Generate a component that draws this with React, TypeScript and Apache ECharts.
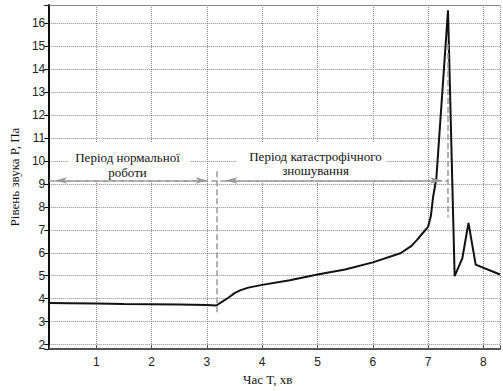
import React, { useEffect, useRef } from "react";
import * as echarts from "echarts";

// Time, min
const timeValues = [
  0.15, 0.5, 1.0, 1.5, 2.0, 2.5, 3.0, 3.17,
  3.3, 3.4, 3.5, 3.6, 3.75, 4.0, 4.5, 5.0, 5.5, 6.0, 6.5, 6.7, 6.8, 6.9, 7.0,
  7.05, 7.09, 7.15, 7.36, 7.48, 7.62, 7.73, 7.86, 8.3,
];
// Sound level, Pa
const soundValues = [
  3.81, 3.8, 3.79, 3.77, 3.76, 3.74, 3.72, 3.7,
  3.9, 4.06, 4.24, 4.36, 4.48, 4.6, 4.8, 5.05, 5.27, 5.58, 5.98, 6.3, 6.56, 6.85, 7.13,
  7.6, 8.42, 9.27, 16.57, 4.98, 5.77, 7.3, 5.48, 5.05,
];

const xMin = 0.15;
const xMax = 8.3;
const yMin = 1.8;
const yMax = 16.8;

// Annotation geometry (data coordinates)
const boundaryNormal = 3.175;
const boundaryEnd = 7.36;
const arrowLevel = 9.15;
const arrowHalf = 0.11;

const periodLines = ["Період нормальної", "роботи", "Період катастрофічного", "зношування"];
const xName = "Час T, хв";
const yName = "Рівень звука P, Па";

const intLabel = (v: number) => (Math.abs(v - Math.round(v)) < 1e-6 ? String(Math.round(v)) : "");

export default function App() {
  const ref = useRef<HTMLDivElement>(null);
  useEffect(() => {
    if (!ref.current) return;
    const chart = echarts.init(ref.current, null, { renderer: "svg" });
    const data = timeValues.map((t, i) => [t, soundValues[i]]);
    const serif = "Liberation Serif";
    chart.setOption({
      animation: false,
      grid: { left: 47, right: 1, top: 5, bottom: 37 },
      xAxis: [
        {
          type: "value",
          min: xMin,
          max: xMax,
          splitNumber: 8,
          name: xName,
          nameLocation: "middle",
          nameGap: 20,
          nameTextStyle: { fontFamily: serif, fontSize: 13, color: "#111", padding: [0, 14, 0, 0] },
          axisLine: { show: true, lineStyle: { color: "#555", width: 2 } },
          axisTick: { show: true, inside: true, length: 4 },
          axisLabel: { formatter: intLabel, margin: 7, fontSize: 12, color: "#222" },
          splitLine: { show: true, lineStyle: { color: "#888", type: "dotted" } },
        },
        {
          type: "value",
          min: xMin,
          max: xMax,
          position: "top",
          axisLine: { show: true, lineStyle: { color: "#888" } },
          axisLabel: { show: false },
          axisTick: { show: false },
          splitLine: { show: false },
        },
      ],
      yAxis: {
        type: "value",
        min: yMin,
        max: yMax,
        splitNumber: 15,
        name: yName,
        nameLocation: "middle",
        nameGap: 27,
        nameTextStyle: { fontFamily: serif, fontSize: 13, color: "#111" },
        axisLine: { show: true, lineStyle: { color: "#111", width: 2 } },
        axisLabel: { formatter: intLabel, margin: 4, fontSize: 12, color: "#222" },
        splitLine: { show: true, lineStyle: { color: "#888", type: "dotted" } },
      },
      series: [
        { type: "line", data, symbol: "none", lineStyle: { color: "#111", width: 2 } },
        {
          type: "line",
          data: [],
          markLine: {
            symbol: ["arrow", "arrow"],
            symbolSize: [5, 12],
            lineStyle: { color: "#999", width: 1.5 },
            data: [
              [{ coord: [xMin, arrowLevel], symbol: "none" }, { coord: [boundaryEnd, arrowLevel], symbol: "none" }],
              [{ coord: [xMin + arrowHalf, arrowLevel] }, { coord: [boundaryNormal - 1.5 * arrowHalf, arrowLevel] }],
              [{ coord: [boundaryNormal + 1.5 * arrowHalf, arrowLevel] }, { coord: [boundaryEnd - arrowHalf, arrowLevel] }],
              [{ coord: [boundaryNormal, 9.55], symbol: "none" }, { coord: [boundaryNormal, 3.4], symbol: "none" }],
              [{ coord: [boundaryEnd, 15.1], symbol: "none" }, { coord: [boundaryEnd, 7.55], symbol: "none" }],
            ],
          },
        },
      ],
      graphic: [
        { type: "rect", shape: { x: 68, y: 143, width: 122, height: 37 }, style: { fill: "#fff" }, z: 10 },
        { type: "rect", shape: { x: 237, y: 143, width: 149, height: 37 }, style: { fill: "#fff" }, z: 10 },
        { type: "text", x: 127.5, y: 151, z: 11, style: { text: periodLines[0], fontFamily: serif, fontSize: 13, fill: "#111", align: "center" } },
        { type: "text", x: 127.5, y: 166, z: 11, style: { text: periodLines[1], fontFamily: serif, fontSize: 13, fill: "#111", align: "center" } },
        { type: "text", x: 315.5, y: 150, z: 11, style: { text: periodLines[2], fontFamily: serif, fontSize: 13, fill: "#111", align: "center" } },
        { type: "text", x: 315.5, y: 164, z: 11, style: { text: periodLines[3], fontFamily: serif, fontSize: 13, fill: "#111", align: "center" } },
      ],
    });
    return () => chart.dispose();
  }, []);
  return <div ref={ref} style={{ width: 503, height: 391, position: "absolute", left: 0, top: 0 }} />;
}
